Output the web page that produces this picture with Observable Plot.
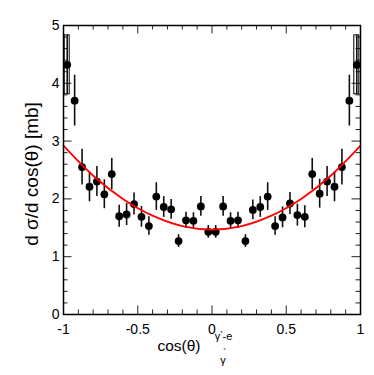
<!DOCTYPE html>
<html><head><meta charset="utf-8">
<script src="https://cdn.jsdelivr.net/npm/d3@7"></script>
<script src="https://cdn.jsdelivr.net/npm/@observablehq/plot@0.6"></script>
<style>body{margin:0;background:#fff} svg{display:block}</style>
</head><body><div id="chart"></div>
<script>
// bin centres of cos(theta)
const cosTheta = [-0.975,-0.925,-0.875,-0.825,-0.775,-0.725,-0.675,-0.625,-0.575,-0.525,
                  -0.475,-0.425,-0.375,-0.325,-0.275,-0.225,-0.175,-0.125,-0.075,-0.025,
                   0.025, 0.075, 0.125, 0.175, 0.225, 0.275, 0.325, 0.375, 0.425, 0.475,
                   0.525, 0.575, 0.625, 0.675, 0.725, 0.775, 0.825, 0.875, 0.925, 0.975];
// d sigma / d cos(theta) [mb]
const dSigma = [4.32,3.70,2.55,2.21,2.30,2.08,2.43,1.70,1.73,1.91,
                1.69,1.53,2.04,1.86,1.82,1.27,1.63,1.62,1.87,1.43,
                1.43,1.87,1.62,1.63,1.27,1.81,1.86,2.04,1.53,1.68,
                1.92,1.72,1.69,2.43,2.09,2.30,2.21,2.55,3.70,4.32];
const dSigmaErr = [0.51,0.44,0.31,0.26,0.26,0.25,0.27,0.19,0.19,0.19,
                   0.18,0.16,0.24,0.18,0.17,0.11,0.14,0.14,0.17,0.11,
                   0.11,0.17,0.14,0.14,0.11,0.17,0.18,0.24,0.16,0.18,
                   0.19,0.19,0.19,0.27,0.25,0.26,0.26,0.31,0.44,0.51];
// bins drawn with a systematic box
const sysBins = [-0.975, 0.975];
// fitted curve
const fitX = [-1,-0.8,-0.6,-0.4,-0.2,0,0.2,0.4,0.6,0.8,1];
const fitY = [2.92,2.40,2.00,1.71,1.53,1.47,1.53,1.71,2.00,2.40,2.92];
// ticks
const xMajorTicks = [-1,-0.5,0,0.5,1];
const xMinorTicks = [-0.9,-0.8,-0.7,-0.6,-0.4,-0.3,-0.2,-0.1,0.1,0.2,0.3,0.4,0.6,0.7,0.8,0.9];
const yMajorTicks = [0,1,2,3,4,5];
const yMinorTicks = [0.2,0.4,0.6,0.8,1.2,1.4,1.6,1.8,2.2,2.4,2.6,2.8,3.2,3.4,3.6,3.8,4.2,4.4,4.6,4.8];
const xTitleMain = "cos(θ)";
const xTitleSup = ["γ","*","-e"];
const xTitleSub = ["γ","*"];
const yTitle = "d σ/d cos(θ) [mb]";

const points = cosTheta.map((x,i)=>({x, y:dSigma[i], e:dSigmaErr[i]}));
const sysPoints = points.filter(d=>sysBins.includes(d.x));
const fit = fitX.map((x,i)=>({x, y:fitY[i]}));

const W=374, H=375, mL=63, mR=14, mT=25, mB=61;
const pW=W-mL-mR, pH=H-mT-mB;
const majLen=8.5, minLen=4.5;
const tickColor="#222";

const svg = Plot.plot({
  width:W, height:H,
  marginLeft:mL, marginRight:mR, marginTop:mT, marginBottom:mB,
  style:{fontFamily:"'Liberation Sans', Arial, Helvetica, sans-serif", background:"#fff", color:"#000"},
  x:{domain:[-1,1], label:null},
  y:{domain:[0,5], label:null},
  marks:[
    Plot.tickX(xMajorTicks,{x:d=>d, insetTop:pH-majLen, stroke:tickColor, strokeWidth:1}),
    Plot.tickX(xMinorTicks,{x:d=>d, insetTop:pH-minLen, stroke:tickColor, strokeWidth:1}),
    Plot.tickX(xMajorTicks,{x:d=>d, insetBottom:pH-majLen, stroke:tickColor, strokeWidth:1}),
    Plot.tickX(xMinorTicks,{x:d=>d, insetBottom:pH-minLen, stroke:tickColor, strokeWidth:1}),
    Plot.tickY(yMajorTicks,{y:d=>d, insetRight:pW-majLen, stroke:tickColor, strokeWidth:1}),
    Plot.tickY(yMinorTicks,{y:d=>d, insetRight:pW-minLen, stroke:tickColor, strokeWidth:1}),
    Plot.tickY(yMajorTicks,{y:d=>d, insetLeft:pW-majLen, stroke:tickColor, strokeWidth:1}),
    Plot.tickY(yMinorTicks,{y:d=>d, insetLeft:pW-minLen, stroke:tickColor, strokeWidth:1}),
    Plot.axisX(xMajorTicks,{tickSize:0, tickPadding:10, fontSize:14, tickFormat:d=>String(d), label:null}),
    Plot.axisY(yMajorTicks,{tickSize:0, tickPadding:4, fontSize:14, tickFormat:d=>String(d), label:null}),
    Plot.rect(sysPoints,{x1:"x", x2:"x", y1:d=>d.y-d.e, y2:d=>d.y+d.e, fill:"none", stroke:"#000", strokeWidth:1, insetLeft:-2.5, insetRight:-2.5}),
    Plot.ruleX(points,{x:"x", y1:d=>d.y-d.e, y2:d=>d.y+d.e, stroke:"#111", strokeWidth:1.6}),
    Plot.dot(points,{x:"x", y:"y", r:3.9, fill:"#000", stroke:"none"}),
    Plot.line(fit,{x:"x", y:"y", curve:"catmull-rom", stroke:"#ff0000", strokeWidth:1.8}),
    Plot.frame({stroke:"#000", strokeWidth:1.5})
  ]
});

const s = d3.select(svg);
const xt = s.append("text").attr("fill","#000").attr("font-family","'Liberation Sans', Arial, sans-serif");
xt.append("tspan").attr("x",179).attr("y",351).attr("font-size",15.5).text(xTitleMain);
xt.append("tspan").attr("x",223.5).attr("y",340).attr("font-size",11).text(xTitleSup[0]);
xt.append("tspan").attr("dy",-5).attr("font-size",6).text(xTitleSup[1]);
xt.append("tspan").attr("dy",5).attr("font-size",11).text(xTitleSup[2]);
xt.append("tspan").attr("x",223).attr("y",364).attr("font-size",11).text(xTitleSub[0]);
xt.append("tspan").attr("x",224.5).attr("y",352).attr("font-size",5).text(xTitleSub[1]);

s.append("text").attr("fill","#000").attr("font-family","'Liberation Sans', Arial, sans-serif")
  .attr("font-size",19).attr("text-anchor","middle")
  .attr("transform","translate(37.5,174) rotate(-90)").text(yTitle);

document.getElementById("chart").appendChild(svg);
</script>
</body></html>
